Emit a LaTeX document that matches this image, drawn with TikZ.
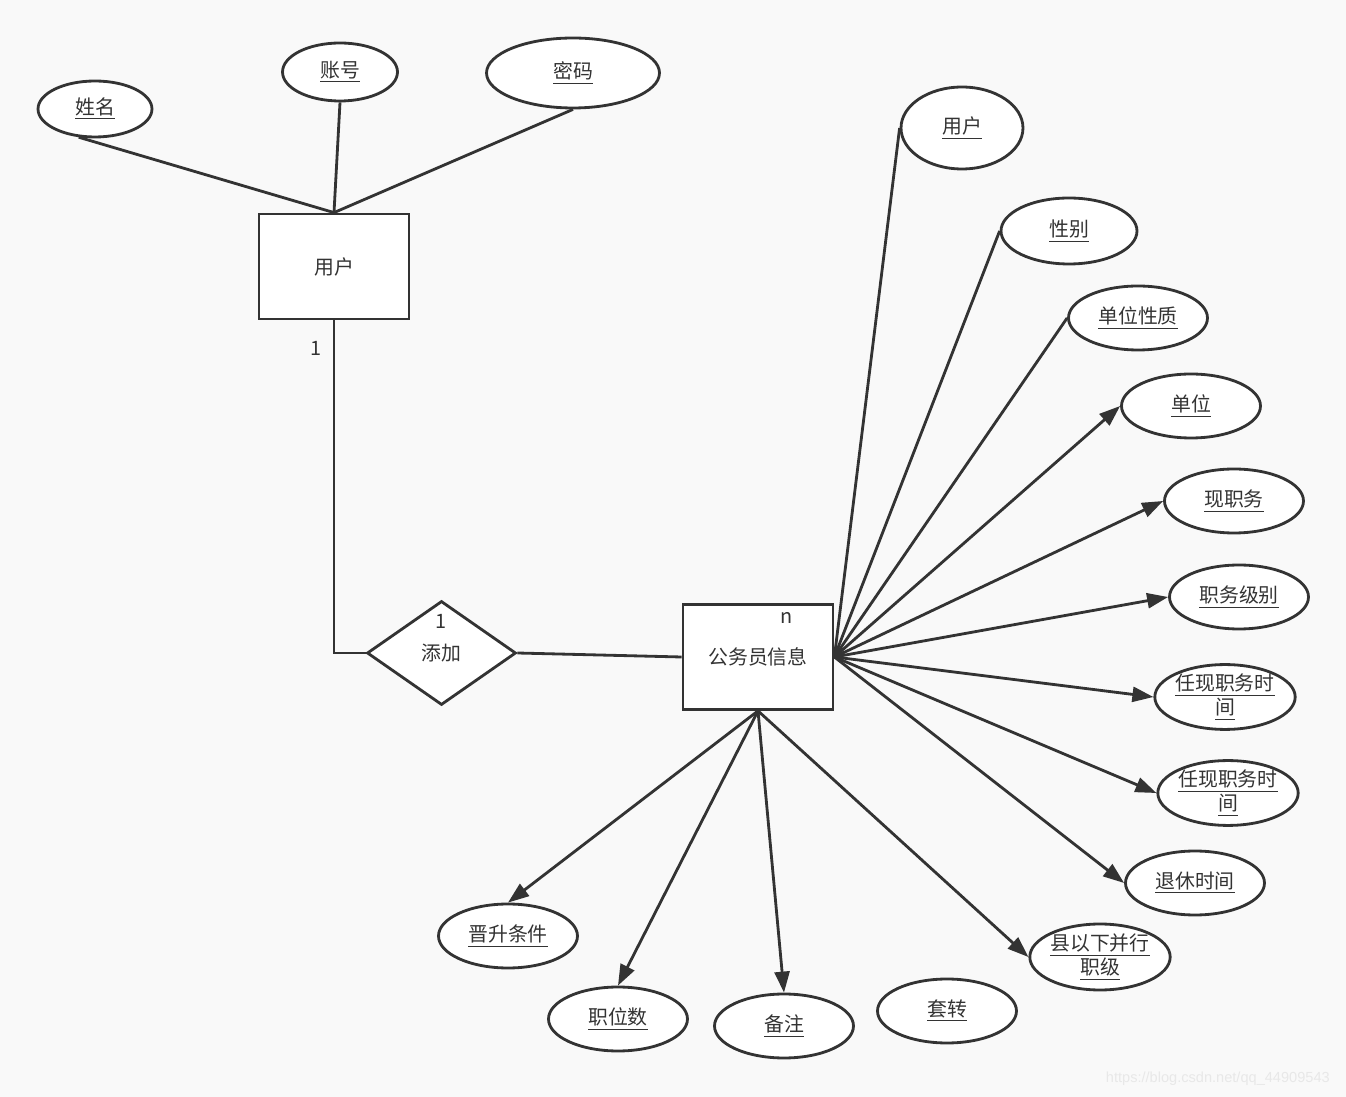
\documentclass[tikz,border=0pt]{standalone}
\usepackage{fontspec}
\setmainfont{Noto Sans CJK SC}
\newfontfamily\urlfont{Liberation Sans}
\usetikzlibrary{shapes.geometric,arrows.meta}

\definecolor{ink}{HTML}{333333}
\definecolor{paper}{HTML}{F9F9F9}
\newcommand{\attrname}[1]{\underline{#1}}

\begin{document}
\begin{tikzpicture}[x=0.02cm, y=-0.02cm, line width=1.6pt, color=ink,
  >={Triangle[length=0.42cm,width=0.3cm]},
  every node/.style={font=\fontsize{11.3}{13.7}\selectfont},
  entity/.style={draw, fill=white, minimum width=3cm, minimum height=2.1cm, inner sep=0pt},
  rel/.style={draw, diamond, fill=white, minimum width=2.98cm, minimum height=2.08cm, inner sep=0pt},
  attr/.style={draw, ellipse, fill=white, minimum width=2.78cm, minimum height=1.28cm,
    inner sep=0pt, align=center}]
  % Background
  \fill[paper] (0,0) rectangle (1346,1097);

  % Entities and relation
  \node[entity] (usr) at (334,266.5) {用户};
  \node[entity] (info) at (758,657) {公务员信息};
  \node[rel] (add) at (441.5,653) {添加};

  % Attributes of the user
  \node[attr, minimum width=2.28cm, minimum height=1.12cm] (xm) at (95,109) {\attrname{姓名}};
  \node[attr, minimum width=2.3cm, minimum height=1.16cm] (zh) at (340,72) {\attrname{账号}};
  \node[attr, minimum width=3.46cm, minimum height=1.4cm] (mm) at (573,73) {\attrname{密码}};

  % Attributes of the record, right side
  \node[attr, minimum width=2.44cm, minimum height=1.64cm] (yh) at (962,128) {\attrname{用户}};
  \node[attr, minimum width=2.72cm, minimum height=1.32cm] (xb) at (1069,231) {\attrname{性别}};
  \node[attr] (dwxz) at (1138,318) {\attrname{单位性质}};
  \node[attr] (dw) at (1191,406) {\attrname{单位}};
  \node[attr] (xzw) at (1234,501) {\attrname{现职务}};
  \node[attr] (zwjb) at (1239,597) {\attrname{职务级别}};
  \node[attr] (rxsj1) at (1225,697) {\attrname{任现职务时}\\\attrname{间}};
  \node[attr] (rxsj2) at (1228,793) {\attrname{任现职务时}\\\attrname{间}};
  \node[attr] (txsj) at (1195,883) {\attrname{退休时间}};
  \node[attr, minimum height=1.32cm] (bxzj) at (1100,957) {\attrname{县以下并行}\\\attrname{职级}};

  % Attributes of the record, bottom
  \node[attr] (sstj) at (508,936) {\attrname{晋升条件}};
  \node[attr] (zws) at (618,1019) {\attrname{职位数}};
  \node[attr] (bz) at (784,1026) {\attrname{备注}};
  \node[attr] (tz) at (947,1011) {\attrname{套转}};

  % Cardinalities
  \node (c1) at (316,348) {1};
  \node (c2) at (441,621) {1};
  \node (cn) at (787,618) {n};

  % Links
  \draw (xm.240) -- (usr.north);
  \draw (zh.south) -- (usr.north);
  \draw (mm.south) -- (usr.north);
  \draw (usr.south) |- (add.west);
  \draw (add.east) -- (info.west);
  \foreach \a in {yh,xb,dwxz}
    \draw (info.east) -- (\a.west);
  \foreach \a in {dw,xzw,zwjb,rxsj1,rxsj2,txsj}
    \draw[->] (info.east) -- (\a.west);
  \draw[->] (info.south) -- (bxzj.west);
  \foreach \a in {sstj,zws,bz}
    \draw[->] (info.south) -- (\a.north);

  % Watermark
  \node[anchor=east, text=black!9, font=\urlfont\fontsize{8.3}{10}\selectfont] (wm)
    at (1337,1079) {https://blog.csdn.net/qq\_44909543};
\end{tikzpicture}
\end{document}
